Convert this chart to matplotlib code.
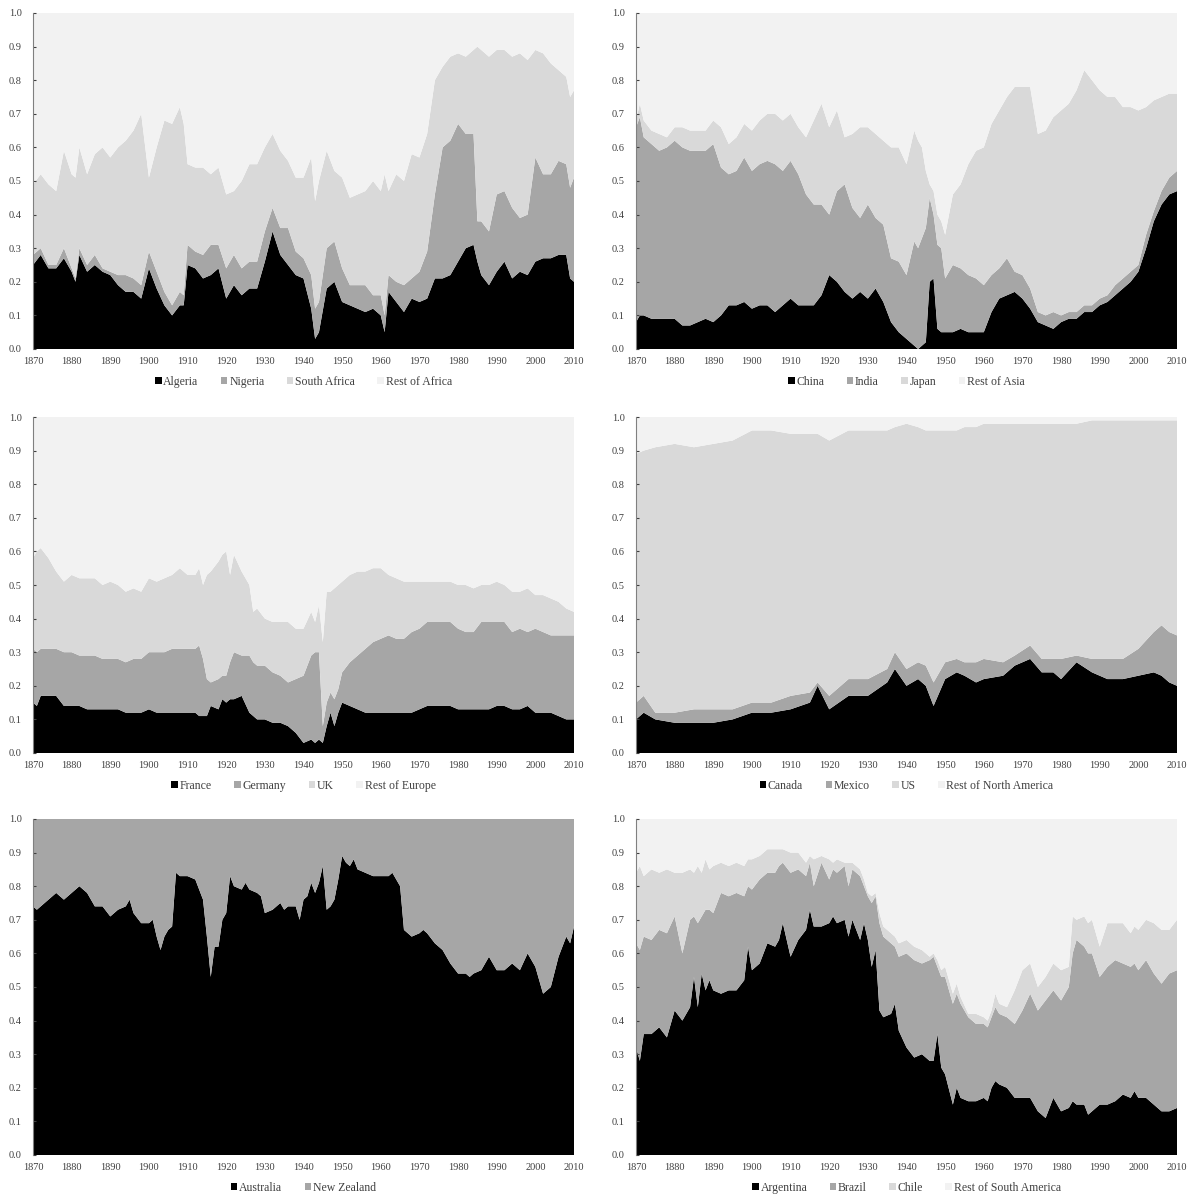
import numpy as np
import matplotlib
matplotlib.use("Agg")
import matplotlib.pyplot as plt
from matplotlib.patches import Patch

plt.rcParams['font.family'] = ['Liberation Serif', 'DejaVu Serif']

# Africa
af_years = [1870, 1872, 1874, 1876, 1878, 1880, 1881, 1882, 1884, 1886,
            1888, 1890, 1892, 1894, 1896, 1898, 1900, 1902, 1904, 1906,
            1908, 1909, 1910, 1912, 1914, 1916, 1918, 1920, 1922, 1924,
            1926, 1928, 1930, 1932, 1934, 1936, 1938, 1940, 1942, 1943,
            1944, 1946, 1948, 1950, 1952, 1954, 1956, 1958, 1960, 1961,
            1962, 1964, 1966, 1968, 1970, 1972, 1974, 1976, 1978, 1980,
            1982, 1984, 1985, 1986, 1988, 1990, 1992, 1994, 1996, 1998,
            2000, 2002, 2004, 2006, 2008, 2009, 2010]
algeria = [.25, .28, .24, .24, .27, .23, .20, .28, .23, .25,
           .23, .22, .19, .17, .17, .15, .24, .18, .13, .10,
           .13, .13, .25, .24, .21, .22, .24, .15, .19, .16,
           .18, .18, .26, .35, .28, .25, .22, .21, .12, .03,
           .05, .18, .20, .14, .13, .12, .11, .12, .10, .05,
           .17, .14, .11, .15, .14, .15, .21, .21, .22, .26,
           .30, .31, .26, .22, .19, .23, .26, .21, .23, .22,
           .26, .27, .27, .28, .28, .21, .20]
nigeria = [.03, .02, .01, .01, .03, .01, .01, .02, .02, .03,
           .01, .01, .03, .05, .04, .04, .05, .05, .04, .03,
           .04, .03, .06, .05, .07, .09, .07, .09, .09, .08,
           .08, .08, .09, .07, .08, .11, .07, .06, .10, .09,
           .09, .12, .12, .10, .06, .07, .08, .04, .06, .05,
           .05, .06, .08, .06, .09, .14, .25, .39, .40, .41,
           .34, .33, .12, .16, .16, .23, .21, .21, .16, .18,
           .31, .25, .25, .28, .27, .27, .31]
south_africa = [.21, .22, .24, .22, .29, .28, .30, .30, .27, .30,
                .36, .34, .38, .40, .44, .51, .22, .37, .51, .54,
                .55, .51, .24, .25, .26, .21, .23, .22, .19, .26,
                .29, .29, .25, .22, .23, .20, .22, .24, .35, .32,
                .36, .29, .21, .27, .26, .27, .28, .34, .31, .42,
                .25, .32, .31, .37, .34, .35, .34, .24, .25, .21,
                .23, .25, .52, .51, .52, .43, .42, .45, .49, .46,
                .32, .36, .33, .27, .26, .27, .26]

# Asia
as_years = [1870, 1871, 1872, 1874, 1876, 1878, 1880, 1882, 1884, 1886,
            1888, 1890, 1892, 1894, 1896, 1898, 1900, 1902, 1904, 1906,
            1908, 1910, 1912, 1914, 1916, 1918, 1920, 1922, 1924, 1926,
            1928, 1930, 1932, 1934, 1936, 1938, 1940, 1942, 1943, 1944,
            1945, 1946, 1947, 1948, 1949, 1950, 1952, 1954, 1956, 1958,
            1960, 1962, 1964, 1966, 1968, 1970, 1972, 1974, 1976, 1978,
            1980, 1982, 1984, 1986, 1988, 1990, 1992, 1994, 1996, 1998,
            2000, 2002, 2004, 2006, 2008, 2010]
china = [.08, .10, .10, .09, .09, .09, .09, .07, .07, .08,
         .09, .08, .10, .13, .13, .14, .12, .13, .13, .11,
         .13, .15, .13, .13, .13, .16, .22, .20, .17, .15,
         .17, .15, .18, .14, .08, .05, .03, .01, .00, .01,
         .02, .20, .21, .06, .05, .05, .05, .06, .05, .05,
         .05, .11, .15, .16, .17, .15, .12, .08, .07, .06,
         .08, .09, .09, .11, .11, .13, .14, .16, .18, .20,
         .23, .30, .38, .43, .46, .47]
india = [.58, .59, .53, .52, .50, .51, .53, .53, .52, .51,
         .50, .53, .44, .39, .40, .43, .41, .42, .43, .44,
         .40, .41, .39, .33, .30, .27, .18, .27, .32, .27,
         .22, .28, .21, .23, .19, .21, .19, .31, .30, .32,
         .34, .25, .19, .25, .25, .16, .20, .18, .17, .16,
         .14, .11, .09, .11, .06, .07, .06, .03, .03, .05,
         .02, .02, .02, .02, .02, .02, .02, .03, .03, .03,
         .02, .04, .03, .04, .05, .06]
japan = [.02, .04, .05, .04, .05, .03, .04, .06, .06, .06,
         .06, .07, .12, .09, .10, .10, .12, .13, .14, .15,
         .15, .14, .14, .17, .25, .30, .26, .24, .14, .22,
         .27, .23, .25, .25, .33, .34, .33, .33, .32, .27,
         .17, .04, .07, .09, .08, .13, .21, .25, .33, .38,
         .41, .45, .47, .48, .55, .56, .60, .53, .55, .58,
         .61, .62, .66, .70, .67, .62, .59, .56, .51, .49,
         .46, .38, .33, .28, .25, .23]

# Europe
eu_years = [1870, 1871, 1872, 1874, 1876, 1878, 1880, 1882, 1884, 1886,
            1888, 1890, 1892, 1894, 1896, 1898, 1900, 1902, 1904, 1906,
            1908, 1910, 1912, 1913, 1914, 1915, 1916, 1918, 1919, 1920,
            1921, 1922, 1924, 1926, 1927, 1928, 1930, 1932, 1934, 1936,
            1938, 1940, 1942, 1943, 1944, 1945, 1946, 1947, 1948, 1949,
            1950, 1952, 1954, 1956, 1958, 1960, 1962, 1964, 1966, 1968,
            1970, 1972, 1974, 1976, 1978, 1980, 1982, 1984, 1986, 1988,
            1990, 1992, 1994, 1996, 1998, 2000, 2002, 2004, 2006, 2008,
            2010]
france = [.15, .14, .17, .17, .17, .14, .14, .14, .13, .13,
          .13, .13, .13, .12, .12, .12, .13, .12, .12, .12,
          .12, .12, .12, .11, .11, .11, .14, .13, .16, .15,
          .16, .16, .17, .12, .11, .10, .10, .09, .09, .08,
          .06, .03, .04, .03, .04, .03, .08, .12, .08, .12,
          .15, .14, .13, .12, .12, .12, .12, .12, .12, .12,
          .13, .14, .14, .14, .14, .13, .13, .13, .13, .13,
          .14, .14, .13, .13, .14, .12, .12, .12, .11, .10,
          .10]
germany = [.16, .16, .14, .14, .14, .16, .16, .15, .16, .16,
           .15, .15, .15, .15, .16, .16, .17, .18, .18, .19,
           .19, .19, .19, .21, .17, .11, .07, .09, .07, .08,
           .11, .14, .12, .17, .16, .16, .16, .15, .14, .13,
           .16, .20, .25, .27, .26, .05, .07, .06, .08, .07,
           .09, .13, .16, .19, .21, .22, .23, .22, .22, .24,
           .24, .25, .25, .25, .25, .24, .23, .23, .26, .26,
           .25, .25, .23, .24, .22, .25, .24, .23, .24, .25,
           .25]
uk = [.27, .30, .30, .27, .23, .21, .23, .23, .23, .23,
      .22, .23, .22, .21, .21, .20, .22, .21, .22, .22,
      .24, .22, .22, .23, .22, .31, .33, .35, .36, .37,
      .26, .29, .25, .21, .15, .17, .14, .15, .16, .18,
      .15, .14, .13, .09, .14, .25, .33, .30, .33, .31,
      .27, .26, .25, .23, .22, .21, .18, .18, .17, .15,
      .14, .12, .12, .12, .12, .13, .14, .13, .11, .11,
      .12, .11, .12, .11, .13, .10, .11, .11, .10, .08,
      .07]

# North America
na_years = [1870, 1872, 1875, 1880, 1885, 1890, 1895, 1900, 1905, 1910,
            1915, 1917, 1920, 1925, 1930, 1935, 1937, 1940, 1943, 1945,
            1947, 1950, 1953, 1955, 1958, 1960, 1965, 1968, 1972, 1975,
            1978, 1980, 1984, 1988, 1992, 1996, 2000, 2004, 2006, 2008,
            2010]
canada = [.10, .12, .10, .09, .09, .09, .10, .12, .12, .13,
          .15, .20, .13, .17, .17, .21, .25, .20, .22, .20,
          .14, .22, .24, .23, .21, .22, .23, .26, .28, .24,
          .24, .22, .27, .24, .22, .22, .23, .24, .23, .21,
          .20]
mexico = [.05, .05, .02, .03, .04, .04, .03, .03, .03, .04,
          .03, .01, .04, .05, .05, .04, .05, .05, .05, .06,
          .07, .05, .04, .04, .06, .06, .04, .03, .04, .04,
          .04, .06, .02, .04, .06, .06, .08, .12, .15, .15,
          .15]
us = [.74, .73, .79, .80, .78, .79, .80, .81, .81, .78,
      .77, .74, .76, .74, .74, .71, .67, .73, .70, .70,
      .75, .69, .68, .70, .70, .70, .71, .69, .66, .70,
      .70, .70, .69, .71, .71, .71, .68, .63, .61, .63,
      .64]

# Oceania
au_years = [1870, 1871, 1872, 1874, 1876, 1878, 1880, 1882, 1884, 1886,
            1888, 1890, 1892, 1894, 1895, 1896, 1898, 1900, 1901, 1902,
            1903, 1904, 1905, 1906, 1907, 1908, 1910, 1912, 1914, 1915,
            1916, 1917, 1918, 1919, 1920, 1921, 1922, 1924, 1925, 1926,
            1928, 1929, 1930, 1932, 1934, 1935, 1936, 1938, 1939, 1940,
            1941, 1942, 1943, 1944, 1945, 1946, 1947, 1948, 1949, 1950,
            1951, 1952, 1953, 1954, 1956, 1958, 1960, 1962, 1963, 1964,
            1965, 1966, 1968, 1970, 1971, 1972, 1974, 1976, 1978, 1980,
            1982, 1983, 1984, 1986, 1988, 1989, 1990, 1992, 1994, 1996,
            1998, 2000, 2002, 2004, 2006, 2008, 2009, 2010]
australia = [.74, .73, .74, .76, .78, .76, .78, .80, .78, .74,
             .74, .71, .73, .74, .76, .72, .69, .69, .70, .65,
             .61, .65, .67, .68, .84, .83, .83, .82, .76, .65,
             .53, .62, .62, .70, .72, .83, .80, .79, .81, .79,
             .78, .77, .72, .73, .75, .73, .74, .74, .70, .76,
             .77, .81, .78, .81, .86, .73, .74, .76, .82, .89,
             .87, .86, .88, .85, .84, .83, .83, .83, .84, .82,
             .80, .67, .65, .66, .67, .66, .63, .61, .57, .54,
             .54, .53, .54, .55, .59, .57, .55, .55, .57, .55,
             .60, .56, .48, .50, .59, .65, .63, .68]

# South America
sa_years = [1870, 1871, 1872, 1874, 1876, 1878, 1880, 1882, 1884, 1885,
            1886, 1887, 1888, 1889, 1890, 1892, 1894, 1896, 1898, 1899,
            1900, 1902, 1904, 1906, 1907, 1908, 1910, 1912, 1914, 1915,
            1916, 1918, 1920, 1921, 1922, 1924, 1925, 1926, 1928, 1929,
            1930, 1931, 1932, 1933, 1934, 1936, 1937, 1938, 1940, 1942,
            1944, 1946, 1947, 1948, 1949, 1950, 1952, 1953, 1954, 1956,
            1958, 1960, 1961, 1962, 1963, 1964, 1966, 1968, 1970, 1972,
            1974, 1976, 1978, 1980, 1982, 1983, 1984, 1986, 1987, 1988,
            1990, 1992, 1994, 1996, 1998, 1999, 2000, 2002, 2004, 2006,
            2008, 2010]
argentina = [.32, .28, .36, .36, .38, .35, .43, .40, .44, .53,
             .44, .54, .49, .52, .49, .48, .49, .49, .52, .62,
             .55, .57, .63, .62, .64, .69, .59, .64, .67, .73,
             .68, .68, .69, .71, .69, .70, .65, .70, .64, .69,
             .64, .56, .61, .43, .41, .42, .45, .37, .32, .29,
             .30, .28, .28, .36, .26, .24, .15, .20, .17, .16,
             .16, .17, .16, .20, .22, .21, .20, .17, .17, .17,
             .13, .11, .17, .13, .14, .16, .15, .15, .12, .13,
             .15, .15, .16, .18, .17, .19, .17, .17, .15, .13,
             .13, .14]
brazil = [.31, .33, .29, .28, .29, .31, .28, .20, .26, .18,
          .25, .17, .24, .21, .23, .30, .28, .29, .25, .18,
          .24, .25, .21, .22, .22, .18, .25, .21, .16, .14,
          .12, .19, .13, .14, .15, .16, .15, .15, .19, .11,
          .13, .19, .16, .26, .24, .21, .17, .22, .28, .29,
          .27, .30, .31, .20, .27, .29, .30, .28, .28, .25,
          .23, .22, .22, .21, .22, .21, .21, .22, .26, .31,
          .30, .35, .32, .33, .36, .44, .49, .47, .48, .47,
          .38, .41, .42, .39, .39, .38, .38, .41, .39, .38,
          .41, .41]
chile = [.21, .25, .18, .21, .17, .19, .13, .24, .15, .13,
         .17, .13, .15, .12, .14, .09, .09, .09, .09, .08,
         .09, .07, .07, .07, .05, .04, .06, .05, .04, .02,
         .08, .02, .06, .02, .04, .01, .07, .02, .02, .02,
         .01, .02, .01, .03, .03, .03, .03, .04, .04, .04,
         .04, .01, .01, .02, .02, .03, .03, .03, .02, .01,
         .03, .02, .02, .02, .04, .03, .03, .10, .12, .09,
         .07, .07, .08, .09, .06, .11, .06, .09, .09, .10,
         .09, .13, .11, .12, .10, .11, .12, .12, .15, .16,
         .13, .15]

FOUR = ['#000000', '#a6a6a6', '#d9d9d9', '#f2f2f2']
TXT = '#404040'

panels = [
    (af_years, [algeria, nigeria, south_africa],
     ['Algeria', 'Nigeria', 'South Africa', 'Rest of Africa'], FOUR),
    (as_years, [china, india, japan],
     ['China', 'India', 'Japan', 'Rest of Asia'], FOUR),
    (eu_years, [france, germany, uk],
     ['France', 'Germany', 'UK', 'Rest of Europe'], FOUR),
    (na_years, [canada, mexico, us],
     ['Canada', 'Mexico', 'US', 'Rest of North America'], FOUR),
    (au_years, [australia],
     ['Australia', 'New Zealand'], ['#000000', '#a6a6a6']),
    (sa_years, [argentina, brazil, chile],
     ['Argentina', 'Brazil', 'Chile', 'Rest of South America'], FOUR),
]

# axes boxes in pixels: left, top
boxes = [(33, 13), (636, 13), (33, 417), (636, 417), (33, 819), (636, 819)]
W, H = 1193, 1198
aw, ah = 541, 336

fig = plt.figure(figsize=(W / 100, H / 100), dpi=100)

for (years, series, names, colors), (px, py) in zip(panels, boxes):
    ax = fig.add_axes([px / W, 1 - (py + ah) / H, aw / W, ah / H])
    vals = [np.array(s) for s in series]
    rest = 1 - np.sum(vals, axis=0)
    ax.stackplot(years, *vals, rest, colors=colors, linewidth=0)
    ax.set_xlim(1870, 2010)
    ax.set_ylim(0, 1)
    ax.set_xticks(range(1870, 2011, 10))
    ax.set_yticks(np.arange(0, 1.01, 0.1))
    ax.set_yticklabels([f'{v:.1f}' for v in np.arange(0, 1.01, 0.1)])
    ax.tick_params(axis='x', length=0, labelsize=7.5, colors=TXT, pad=6)
    ax.tick_params(axis='y', length=2, direction='in', labelsize=7.5,
                   colors=TXT, pad=8)
    for s in ['top', 'right', 'bottom']:
        ax.spines[s].set_visible(False)
    ax.spines['left'].set_color('#808080')
    ax.spines['left'].set_linewidth(0.8)
    handles = [Patch(facecolor=c, edgecolor='none') for c in colors]
    ax.legend(handles, names, loc='upper center', bbox_to_anchor=(0.5, -0.058),
              ncol=len(names), frameon=False, fontsize=8.5, handlelength=0.55,
              handleheight=0.55, handletextpad=0.15, columnspacing=1.9,
              labelcolor=TXT, borderaxespad=0.2)

fig.savefig('out.png', dpi=100)
